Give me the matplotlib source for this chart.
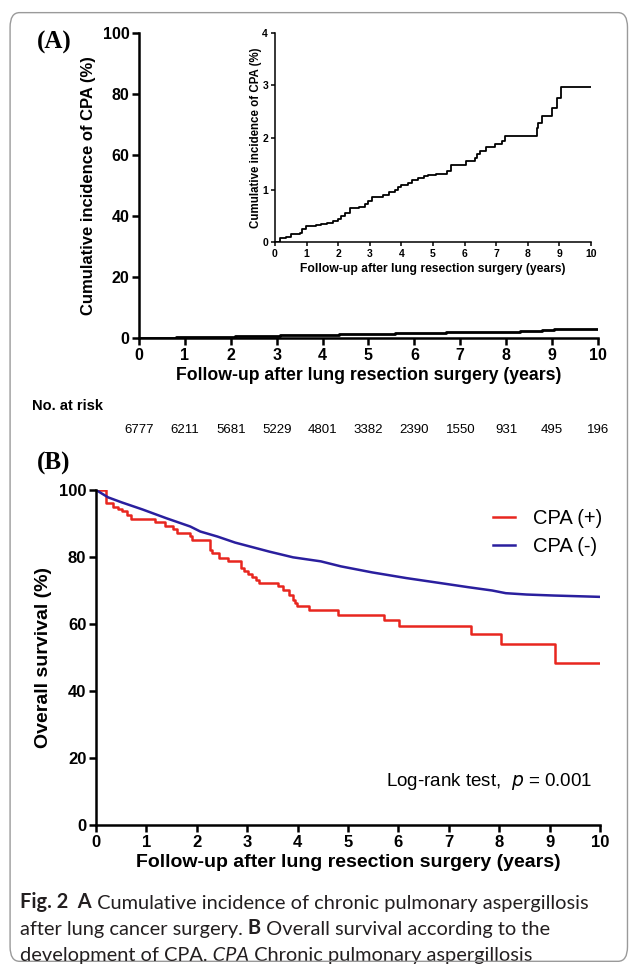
import numpy as np
import matplotlib
matplotlib.use("Agg")
import matplotlib.pyplot as plt
from matplotlib.patches import FancyBboxPatch

plt.rcParams['font.family'] = ['Liberation Sans', 'DejaVu Sans']

# cumulative incidence of CPA (%), step times in years
cpa_t = [0, 0.10, 0.15, 0.35, 0.50, 0.80, 0.85, 0.98, 1.30, 1.45, 1.65, 1.85, 2.00, 2.10,
         2.20, 2.36, 2.67, 2.85, 2.95, 3.08, 3.41, 3.60, 3.80, 3.90, 4.00, 4.20, 4.35,
         4.52, 4.70, 4.84, 5.10, 5.45, 5.58, 6.06, 6.32, 6.40, 6.48, 6.69, 6.96, 7.19,
         7.29, 8.30, 8.33, 8.44, 8.77, 8.92, 9.04, 10.0]
cpa_v = [0, 0.0, 0.08, 0.10, 0.15, 0.17, 0.25, 0.30, 0.33, 0.35, 0.37, 0.40, 0.45, 0.50,
         0.55, 0.65, 0.68, 0.73, 0.78, 0.87, 0.90, 0.95, 1.00, 1.05, 1.09, 1.13, 1.18,
         1.22, 1.26, 1.28, 1.31, 1.35, 1.48, 1.56, 1.60, 1.68, 1.75, 1.81, 1.87, 1.93,
         2.02, 2.18, 2.27, 2.41, 2.57, 2.76, 2.97, 2.97]

years = list(range(0, 11))
at_risk = [6777, 6211, 5681, 5229, 4801, 3382, 2390, 1550, 931, 495, 196]

# overall survival (%)
pos_t = [0, 0.20, 0.34, 0.43, 0.51, 0.61, 0.70, 1.18, 1.36, 1.53, 1.60, 1.87, 1.90, 2.27,
         2.30, 2.45, 2.62, 2.88, 2.93, 3.01, 3.10, 3.18, 3.24, 3.61, 3.71, 3.83, 3.90,
         3.95, 3.99, 4.22, 4.80, 5.71, 6.02, 7.45, 8.03, 9.10, 10.0]
pos_v = [100, 96.0, 95.0, 94.2, 93.6, 92.6, 91.4, 90.4, 89.4, 88.3, 87.3, 86.3, 85.1, 82.1,
         81.3, 79.7, 78.7, 76.7, 75.7, 74.9, 74.0, 73.2, 72.2, 71.2, 70.0, 68.8, 67.3,
         66.3, 65.3, 64.3, 62.8, 61.3, 59.5, 57.0, 53.9, 48.4, 48.4]
neg_t = [0, 0.24, 0.51, 0.92, 1.39, 1.87, 2.07, 2.41, 2.76, 3.44, 3.91, 4.46, 4.86, 5.48,
         6.16, 6.84, 7.38, 7.86, 8.13, 8.54, 9.08, 10.0]
neg_v = [100, 97.8, 96.3, 94.2, 91.6, 89.1, 87.6, 86.1, 84.3, 81.6, 79.9, 78.7, 77.2, 75.4,
         73.7, 72.2, 71.0, 70.0, 69.2, 68.8, 68.5, 68.1]

caption = [
    [('Fig. 2', 'bold', 'normal'), ('  A', 'bold', 'normal'),
     (' Cumulative incidence of chronic pulmonary aspergillosis', 'normal', 'normal')],
    [('after lung cancer surgery.', 'normal', 'normal'), (' B', 'bold', 'normal'),
     (' Overall survival according to the', 'normal', 'normal')],
    [('development of CPA.', 'normal', 'normal'), (' CPA', 'normal', 'italic'),
     (' Chronic pulmonary aspergillosis', 'normal', 'normal')],
]


def style_axes(ax, lw, size, ticklen):
    for s in ['top', 'right']:
        ax.spines[s].set_visible(False)
    for s in ['left', 'bottom']:
        ax.spines[s].set_linewidth(lw)
    ax.tick_params(direction='out', width=lw, length=ticklen, labelsize=size, pad=2)
    for lab in ax.get_xticklabels() + ax.get_yticklabels():
        lab.set_fontweight('bold')


fig = plt.figure(figsize=(6.3, 9.72), dpi=100)

border = FancyBboxPatch((0.016, 0.011), 0.98, 0.976, boxstyle="round,pad=0,rounding_size=0.015",
                        transform=fig.transFigure, fill=False, edgecolor='#9a9a9a', linewidth=1.0)
fig.patches.append(border)

# (A) main
axA = fig.add_axes([0.2206, 0.6523, 0.7286, 0.3138])
axA.step(cpa_t, cpa_v, where='post', color='black', linewidth=2)
axA.set_xlim(0, 10)
axA.set_ylim(0, 100)
axA.set_xticks(years)
axA.set_yticks(range(0, 101, 20))
style_axes(axA, 1.8, 11.5, 5)
axA.set_ylabel('Cumulative incidence of CPA (%)', fontsize=12, fontweight='bold', labelpad=5)
axA.set_xlabel('Follow-up after lung resection surgery (years)', fontsize=12.7, fontweight='bold', labelpad=3)
for x, n in zip(years, at_risk):
    axA.text(x, -0.302, str(n), transform=axA.get_xaxis_transform(), ha='center', va='center', fontsize=9.5)
fig.text(32 / 630, 1 - 406 / 972, 'No. at risk', fontsize=10.5, fontweight='bold', va='center')
fig.text(37 / 630, 1 - 42 / 972, '(A)', family='Liberation Serif', fontsize=18, fontweight='bold', va='center')

# inset
axI = fig.add_axes([0.4365, 0.7510, 0.5016, 0.2150])
axI.step(cpa_t, cpa_v, where='post', color='black', linewidth=1.3)
axI.set_xlim(0, 10)
axI.set_ylim(0, 4)
axI.set_xticks(years)
axI.set_yticks(range(0, 5))
style_axes(axI, 1.1, 7.5, 3)
axI.set_ylabel('Cumulative incidence of CPA (%)', fontsize=8.3, fontweight='bold', labelpad=0)
axI.set_xlabel('Follow-up after lung resection surgery (years)', fontsize=8.7, fontweight='bold', labelpad=3)
axI.patch.set_alpha(0)

# (B)
axB = fig.add_axes([0.1524, 0.1512, 0.8, 0.3447])
axB.step(pos_t, pos_v, where='post', color='#e8261f', linewidth=1.8, label='CPA (+)')
axB.plot(neg_t, neg_v, color='#2a1f9e', linewidth=1.8, label='CPA (-)')
axB.set_xlim(0, 10)
axB.set_ylim(0, 100)
axB.set_xticks(years)
axB.set_yticks(range(0, 101, 20))
style_axes(axB, 1.8, 12, 5)
axB.set_ylabel('Overall survival (%)', fontsize=14, fontweight='bold', labelpad=5)
axB.set_xlabel('Follow-up after lung resection surgery (years)', fontsize=14, fontweight='bold', labelpad=3)
axB.legend(loc='upper right', bbox_to_anchor=(1.02, 0.968), borderaxespad=0, frameon=False, fontsize=14.5,
           handlelength=1.1, handletextpad=0.9, labelspacing=0.45)
axB.text(0.985, 0.13, r'Log-rank test,  $\it{p}$ = 0.001', transform=axB.transAxes,
         ha='right', va='center', fontsize=13.5)
fig.text(37 / 630, 1 - 463 / 972, '(B)', family='Liberation Serif', fontsize=18, fontweight='bold', va='center')

# caption: runs of text placed one after the other
cap_size = 14.4
for i, line in enumerate(caption):
    last = None
    for txt, weight, style in line:
        if last is None:
            last = fig.text(20 / 630, 1 - (912 + 26 * i) / 972, txt, family='Lato', fontsize=cap_size,
                            fontweight=weight, fontstyle=style, va='bottom', color='#231f20')
        else:
            last = plt.annotate(txt, xy=(1, 0), xycoords=last, va='bottom', ha='left',
                                family='Lato', fontsize=cap_size, fontweight=weight, fontstyle=style,
                                color='#231f20', annotation_clip=False)

fig.savefig('out.png', dpi=100)
